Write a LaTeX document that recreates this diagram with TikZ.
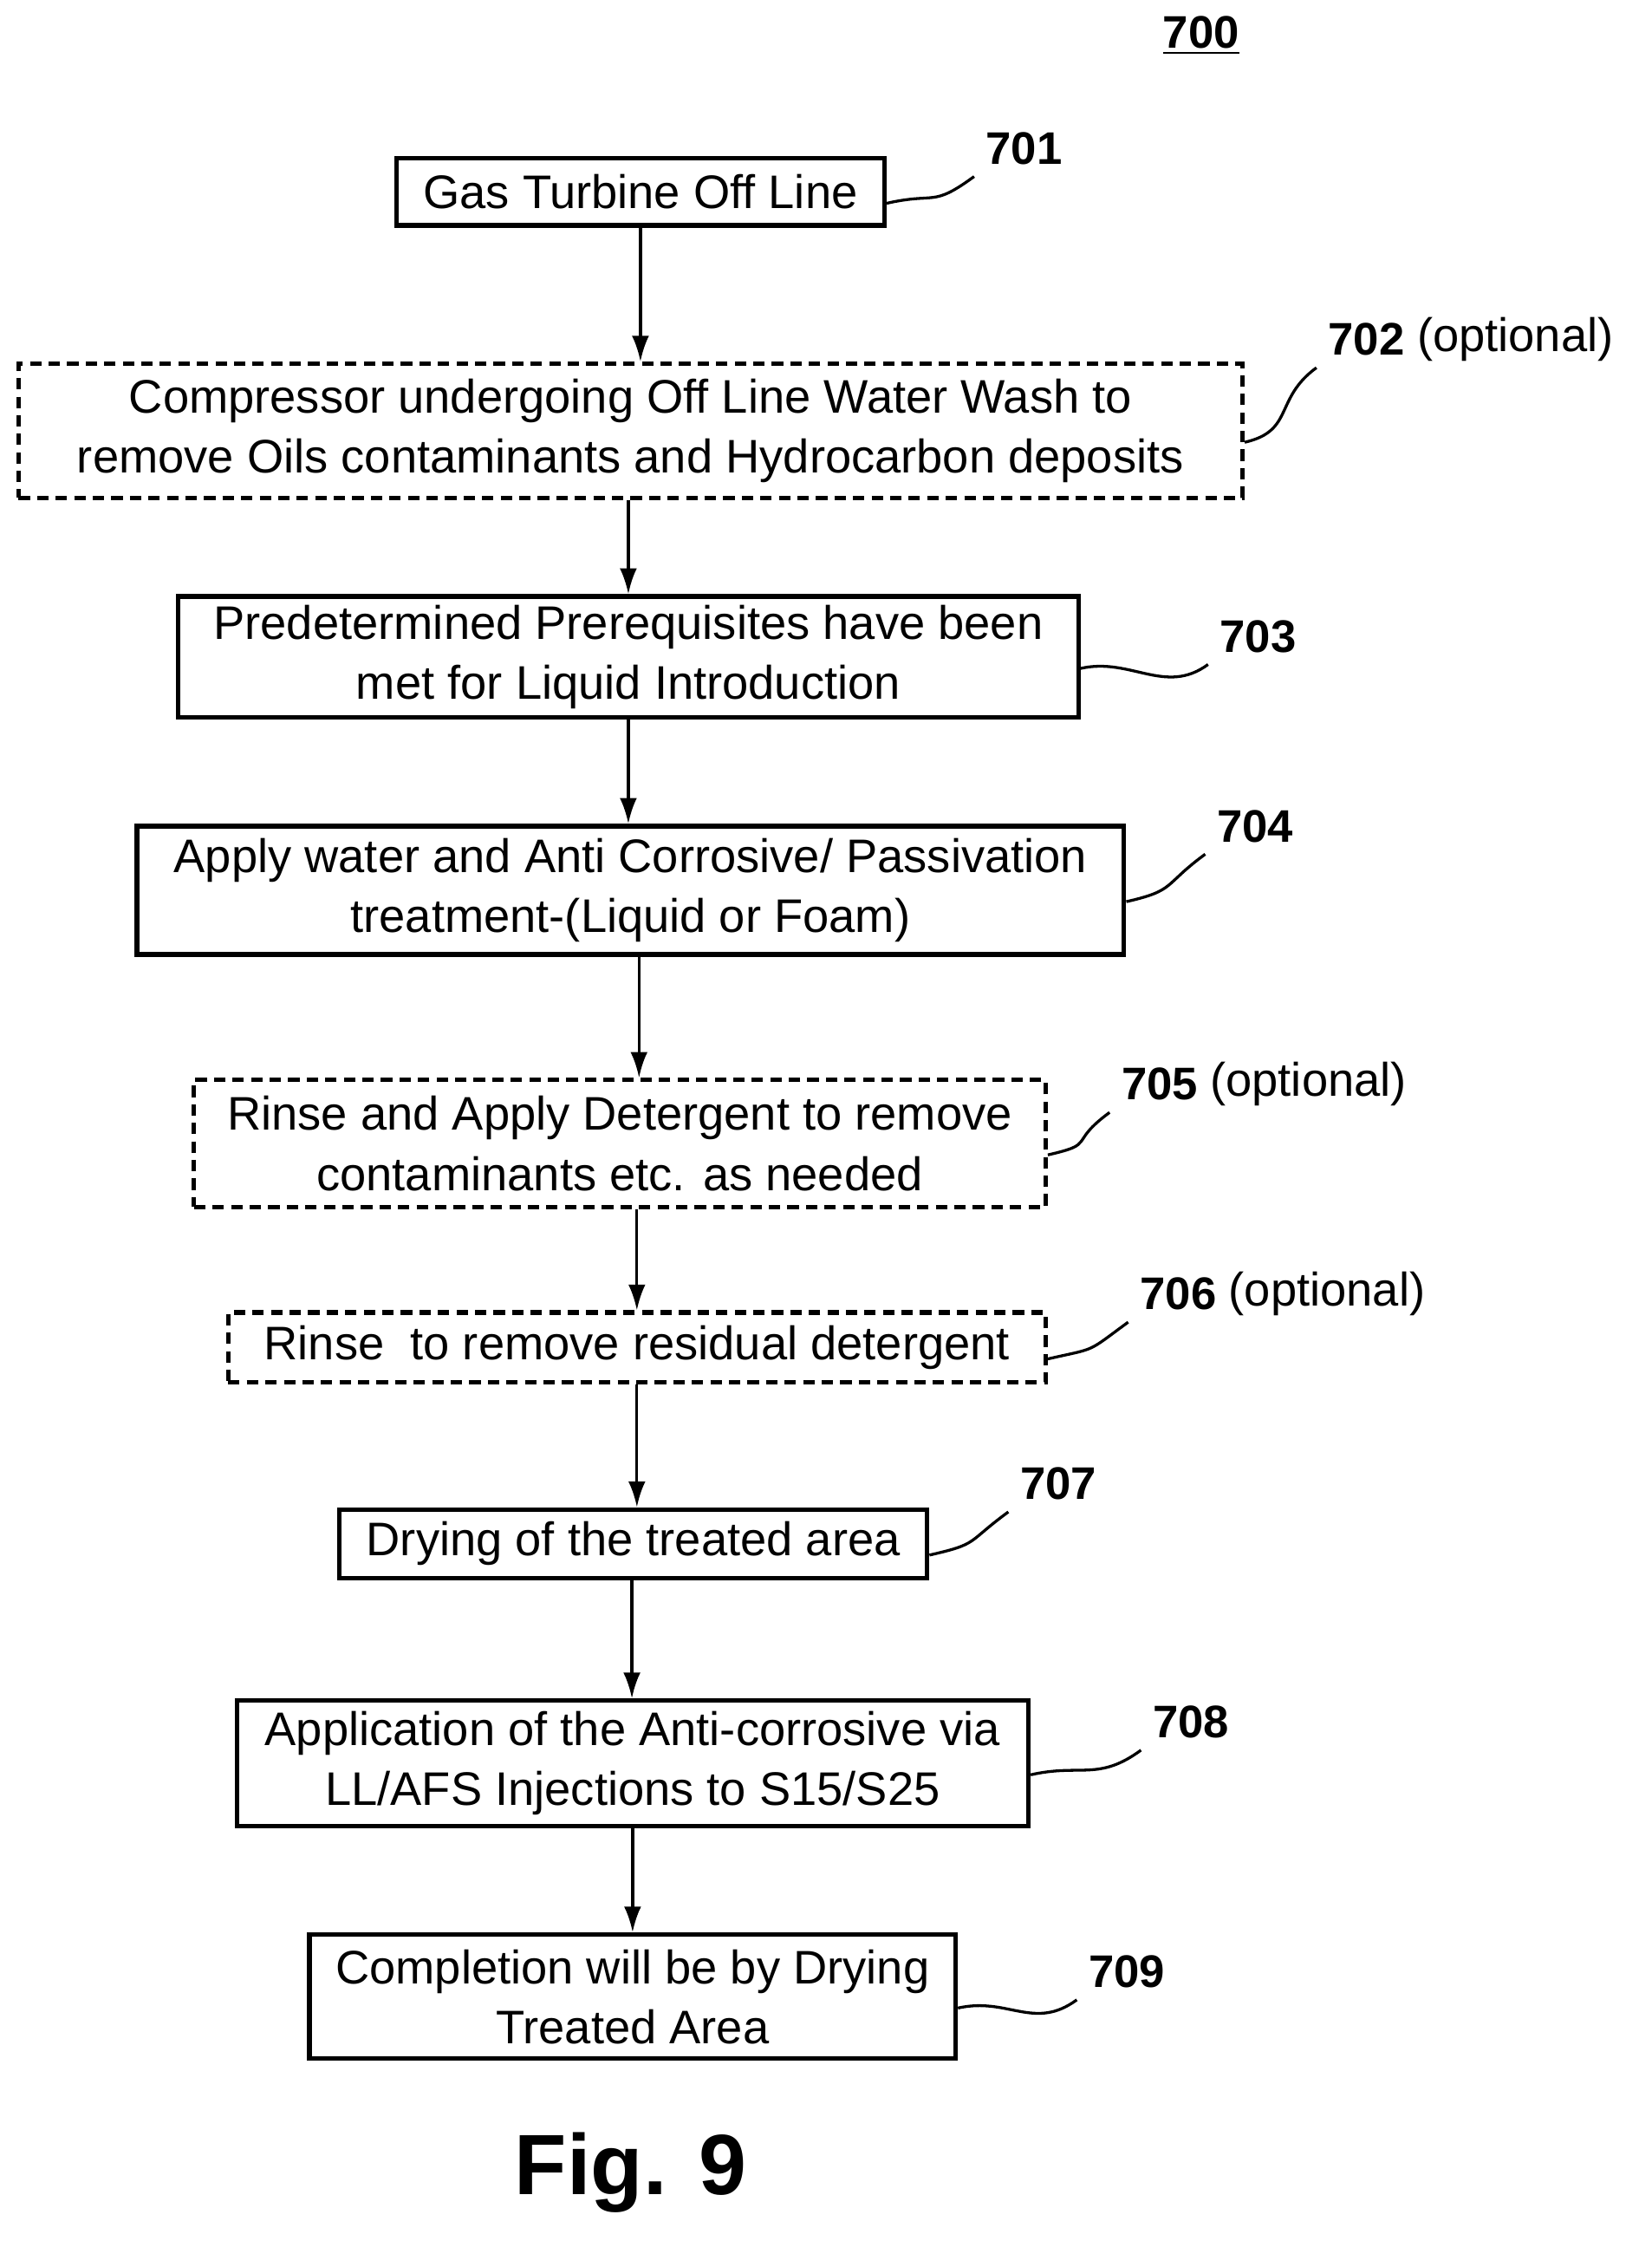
\documentclass[tikz,border=0pt]{standalone}
\usepackage{fontspec}
\setmainfont{Liberation Sans}
\usetikzlibrary{arrows.meta}
\begin{document}
\begin{tikzpicture}[x=0.5pt,y=-0.5pt,
  box/.style={draw,line width=1.6pt,align=center,inner sep=0pt,font=\fontsize{16.5}{21}\selectfont},
  dbox/.style={box,dash pattern=on 4pt off 2.5pt},
  num/.style={font=\bfseries\fontsize{16}{18}\selectfont,inner sep=1pt},
  opt/.style={font=\fontsize{16.5}{18}\selectfont,inner sep=3pt,anchor=west},
  arr/.style={-{Latex[length=9pt,width=6pt]},line width=1pt},
  lead/.style={line width=1pt}]
\useasboundingbox (0,0) rectangle (1158,1575);
\node[num] (l700) at (842,25) {\underline{700}};
\node[box,minimum width=171pt,minimum height=23.5pt] (b1) at (449,134.5) {Gas Turbine Off Line};
\node[dbox,minimum width=429pt,minimum height=47pt] (b2) at (442,302) {Compressor undergoing Off Line Water Wash to\\remove Oils contaminants and Hydrocarbon deposits};
\node[box,minimum width=315.5pt,minimum height=42.5pt] (b3) at (440.5,460.5) {Predetermined Prerequisites have been\\met for Liquid Introduction};
\node[box,minimum width=346pt,minimum height=45pt] (b4) at (442,624) {Apply water and Anti Corrosive/ Passivation\\treatment-(Liquid or Foam)};
\node[dbox,minimum width=298.5pt,minimum height=44.5pt] (b5) at (434.5,801.5) {Rinse and Apply Detergent to remove\\contaminants etc. as needed};
\node[dbox,minimum width=286.5pt,minimum height=24.5pt] (b6) at (446.5,944.5) {Rinse \ to remove residual detergent};
\node[box,minimum width=206pt,minimum height=24pt] (b7) at (444,1082) {Drying of the treated area};
\node[box,minimum width=277.5pt,minimum height=44pt] (b8) at (443.5,1236) {Application of the Anti-corrosive via\\LL/AFS Injections to S15/S25};
\node[box,minimum width=226.5pt,minimum height=43.5pt] (b9) at (443.5,1399.5) {Completion will be by Drying\\Treated Area};
\node[num] (l1) at (718,104) {701};
\node[num] (l2) at (958,238) {702}; \node[opt] (o2) at (l2.east) {(optional)};
\node[num] (l3) at (882,446) {703};
\node[num] (l4) at (880,579) {704};
\node[num] (l5) at (813,760) {705}; \node[opt] (o5) at (l5.east) {(optional)};
\node[num] (l6) at (826,907) {706}; \node[opt] (o6) at (l6.east) {(optional)};
\node[num] (l7) at (742,1040) {707};
\node[num] (l8) at (835,1207) {708};
\node[num] (l9) at (790,1382) {709};
\node[font=\bfseries\fontsize{30}{36}\selectfont] (fig) at (442,1523) {Fig. 9};
\foreach \b/\l in {b1/l1,b2/l2,b3/l3,b4/l4,b5/l5,b6/l6,b7/l7,b8/l8,b9/l9}
  \draw[lead] ([yshift=-4pt]\b.east) .. controls +(35,-8) and +(-30,22) .. ([xshift=-3pt,yshift=-3pt]\l.south west);
\draw[arr] (b1.south) -- (b1.south |- b2.north);
\draw[arr] (b2.south -| b3.north) -- (b3.north);
\draw[arr] (b3.south) -- (b3.south |- b4.north);
\draw[arr] ([xshift=3pt]b4.south) -- ([xshift=3pt]b4.south |- b5.north);
\draw[arr] ([xshift=6pt]b5.south) -- ([xshift=6pt]b5.south |- b6.north);
\draw[arr] (b6.south) -- (b6.south |- b7.north);
\draw[arr] ([xshift=-0.5pt]b7.south) -- ([xshift=-0.5pt]b7.south |- b8.north);
\draw[arr] (b8.south) -- (b8.south |- b9.north);
\end{tikzpicture}
\end{document}
